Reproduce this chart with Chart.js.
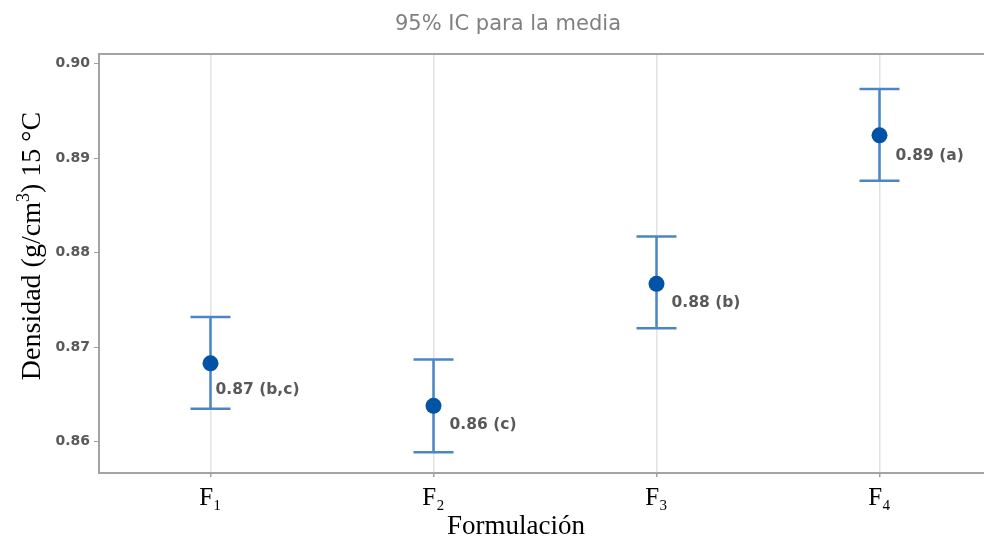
<!DOCTYPE html>
<html>
<head>
<meta charset="utf-8">
<script src="https://cdn.jsdelivr.net/npm/chart.js@4/dist/chart.umd.min.js"></script>
<style>
  html, body { margin: 0; padding: 0; background: #fff; overflow: hidden; }
  #wrap { width: 1016px; height: 541px; }
</style>
</head>
<body>
<div id="wrap"><canvas id="chart" width="1016" height="541"></canvas></div>
<script>
// values
const categories = ['F\u2081', 'F\u2082', 'F\u2083', 'F\u2084']
const means = [0.8683, 0.8638, 0.8767, 0.8924]
const lower = [0.8635, 0.8589, 0.8720, 0.8876]
const upper = [0.8732, 0.8687, 0.8817, 0.8973]
const meanLabels = ['0.87 (b,c)', '0.86 (c)', '0.88 (b)', '0.89 (a)']
const yTicks = [0.86, 0.87, 0.88, 0.89, 0.90]

const titleText = '95% IC para la media'
const xTitle = 'Formulación'
// y title in three pieces: text, superscript, text
const yTitle = ['Densidad (g/cm', '3', ') 15 \u00B0C']

const frameColor = '#a3a3a3'

// error bars, frame, labels and titles
const extras = {
  id: 'extras',
  beforeDatasetsDraw (chart, args, opts) {
    const { ctx, chartArea: area, scales: { x, y } } = chart
    ctx.save()
    // top edge of the frame
    ctx.strokeStyle = frameColor
    ctx.lineWidth = 2
    ctx.beginPath()
    ctx.moveTo(area.left, area.top)
    ctx.lineTo(area.right, area.top)
    ctx.lineTo(area.right, area.bottom)
    ctx.stroke()

    ctx.strokeStyle = '#4a86c7'
    ctx.lineWidth = 2.5
    means.forEach((m, i) => {
      const px = x.getPixelForValue(i)
      const yl = y.getPixelForValue(lower[i])
      const yu = y.getPixelForValue(upper[i])
      ctx.beginPath()
      ctx.moveTo(px, yl)
      ctx.lineTo(px, yu)
      ctx.moveTo(px - opts.cap, yu)
      ctx.lineTo(px + opts.cap, yu)
      ctx.moveTo(px - opts.cap, yl)
      ctx.lineTo(px + opts.cap, yl)
      ctx.stroke()
    })
    ctx.restore()
  },
  afterDatasetsDraw (chart, args, opts) {
    const { ctx, scales: { x, y } } = chart
    ctx.save()
    ctx.font = 'bold 15.5px "DejaVu Sans"'
    ctx.fillStyle = '#595959'
    ctx.textAlign = 'left'
    ctx.textBaseline = 'middle'
    meanLabels.forEach((t, i) => {
      const off = opts.labelOffsets[i]
      ctx.fillText(t, x.getPixelForValue(i) + off[0], y.getPixelForValue(means[i]) + off[1])
    })

    // chart title
    ctx.font = '21px "DejaVu Sans"'
    ctx.fillStyle = '#808080'
    ctx.textAlign = 'center'
    ctx.fillText(titleText, chart.width / 2, 25)

    // x axis title
    ctx.font = '27px "Liberation Serif"'
    ctx.fillStyle = '#000'
    ctx.fillText(xTitle, 516, 527)

    // y axis title, rotated, with a raised 3
    const big = '28px "Liberation Serif"'
    const small = '18px "Liberation Serif"'
    ctx.font = big
    const w0 = ctx.measureText(yTitle[0]).width
    const w2 = ctx.measureText(yTitle[2]).width
    ctx.font = small
    const w1 = ctx.measureText(yTitle[1]).width
    const total = w0 + w1 + w2
    ctx.translate(31, 246)
    ctx.rotate(-Math.PI / 2)
    ctx.textAlign = 'left'
    ctx.textBaseline = 'alphabetic'
    let cx = -total / 2
    const base = 9
    ctx.font = big
    ctx.fillText(yTitle[0], cx, base)
    cx += w0
    ctx.font = small
    ctx.fillText(yTitle[1], cx, base - 11)
    cx += w1
    ctx.font = big
    ctx.fillText(yTitle[2], cx, base)
    ctx.restore()
  }
}

new Chart(document.getElementById('chart'), {
  type: 'line',
  data: {
    labels: categories,
    datasets: [{
      data: means,
      showLine: false,
      pointRadius: 8,
      pointHoverRadius: 8,
      pointBackgroundColor: '#0053a5',
      pointBorderColor: '#0053a5',
      pointBorderWidth: 0
    }]
  },
  options: {
    responsive: false,
    animation: false,
    events: [],
    layout: { padding: { top: 54, right: 25, left: 0, bottom: 0 } },
    plugins: {
      legend: { display: false },
      tooltip: { enabled: false },
      extras: {
        cap: 20,
        labelOffsets: [[5, 27], [16, 19], [15, 19], [16, 21]]
      }
    },
    scales: {
      x: {
        type: 'category',
        offset: true,
        afterFit: s => { s.height = 68 },
        grid: {
          offset: false,
          color: '#e2e2e2',
          lineWidth: 1.5,
          tickColor: '#a0a0a0',
          tickLength: 4
        },
        border: { color: frameColor, width: 2 },
        ticks: {
          color: '#000',
          padding: 6,
          font: { family: '"Liberation Serif"', size: 25 }
        }
      },
      y: {
        type: 'linear',
        min: 0.8567,
        max: 0.901,
        afterFit: s => { s.width = 99 },
        afterBuildTicks: s => { s.ticks = yTicks.map(v => ({ value: v })) },
        grid: {
          drawOnChartArea: false,
          color: '#a0a0a0',
          tickLength: 5
        },
        border: { color: frameColor, width: 2 },
        ticks: {
          color: '#595959',
          padding: 4,
          font: { family: '"DejaVu Sans"', size: 14, weight: 'bold' },
          callback: v => v.toFixed(2)
        }
      }
    }
  },
  plugins: [extras]
})
</script>
</body>
</html>
